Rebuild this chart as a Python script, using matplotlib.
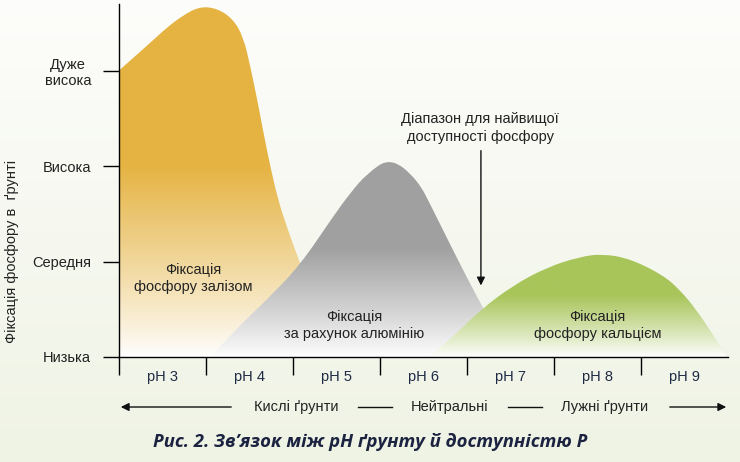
import matplotlib
matplotlib.use("Agg")
import matplotlib.pyplot as plt
import numpy as np
from matplotlib.patches import PathPatch
from matplotlib.path import Path
from matplotlib.colors import to_rgb

plt.rcParams['font.family'] = ['Liberation Sans', 'DejaVu Sans']

# рівні фіксації фосфору
levels = [0, 1, 2, 3]
level_labels = ['Низька', 'Середня', 'Висока', 'Дуже\nвисока']

# шкала pH
ph_values = [3, 4, 5, 6, 7, 8, 9]
ph_labels = ['pH 3', 'pH 4', 'pH 5', 'pH 6', 'pH 7', 'pH 8', 'pH 9']

# контури (pH, рівень)
iron_x = [2.5, 2.86, 3.05, 3.24, 3.43, 3.63, 3.81, 3.93, 4.01, 4.09, 4.16, 4.24, 4.33, 4.43, 4.58, 4.75, 4.93, 5.10]
iron_y = [3.0, 3.29, 3.45, 3.58, 3.67, 3.65, 3.54, 3.35, 3.04, 2.69, 2.35, 1.99, 1.64, 1.36, 0.98, 0.60, 0.23, 0.0]

alum_x = [3.55, 3.81, 4.20, 4.58, 4.96, 5.16, 5.35, 5.62, 5.93, 6.11, 6.30, 6.50, 6.68, 6.86, 6.99]
alum_y = [0.0, 0.26, 0.60, 0.96, 1.47, 1.72, 1.92, 2.09, 1.86, 1.54, 1.19, 0.83, 0.52, 0.23, 0.0]

calc_x = [6.07, 6.36, 6.65, 7.03, 7.42, 7.80, 8.06, 8.37, 8.75, 8.95, 9.14, 9.33, 9.49]
calc_y = [0.0, 0.23, 0.49, 0.75, 0.94, 1.05, 1.08, 1.03, 0.86, 0.70, 0.49, 0.23, 0.0]


def smooth_path(xs, ys):
    # квадратичні криві Безьє через середини відрізків
    pts = list(zip(xs, ys))
    verts = [pts[0]]
    codes = [Path.MOVETO]
    for i in range(1, len(pts) - 1):
        mid = ((pts[i][0] + pts[i + 1][0]) / 2, (pts[i][1] + pts[i + 1][1]) / 2)
        verts += [pts[i], mid]
        codes += [Path.CURVE3, Path.CURVE3]
    verts += [pts[-1], (xs[-1], 0), (xs[0], 0), pts[0]]
    codes += [Path.LINETO, Path.LINETO, Path.LINETO, Path.CLOSEPOLY]
    return Path(verts, codes)


def gradient_fill(ax, xs, ys, color, solid_part):
    top = max(ys)
    patch = PathPatch(smooth_path(xs, ys), facecolor='none', edgecolor='none')
    ax.add_patch(patch)
    t = np.linspace(0, 1, 256)[:, None]          # 0 внизу, 1 вгорі
    w = np.clip(t / solid_part, 0, 1) ** 0.9
    c = np.array(to_rgb(color))
    white = np.array([1.0, 1.0, 1.0])
    img = w[..., None] * c + (1 - w[..., None]) * white
    img = np.repeat(img, 2, axis=1)
    im = ax.imshow(img, origin='lower', aspect='auto',
                   extent=[min(xs), max(xs), 0, top], zorder=2,
                   interpolation='bilinear')
    im.set_clip_path(patch)


fig = plt.figure(figsize=(7.4, 4.62), dpi=100)

# фон
bg = fig.add_axes([0, 0, 1, 1], zorder=-10)
g = np.linspace(0, 1, 256)[:, None]
top_c = np.array(to_rgb('#fdfdfb'))
bot_c = np.array(to_rgb('#eff3e4'))
bg.imshow((g[..., None] * top_c + (1 - g[..., None]) * bot_c).repeat(2, axis=1),
          origin='lower', aspect='auto', extent=[0, 1, 0, 1])
bg.set_axis_off()

ax = fig.add_axes([119 / 740, 105 / 462, 609 / 740, 353.35 / 462])
ax.patch.set_alpha(0)
ax.set_xlim(2.5, 9.5)
ax.set_ylim(0, 3.7)

gradient_fill(ax, iron_x, iron_y, '#e5b342', 0.55)
gradient_fill(ax, alum_x, alum_y, '#a0a0a0', 0.55)
gradient_fill(ax, calc_x, calc_y, '#a8c55a', 0.6)

for s in ['top', 'right']:
    ax.spines[s].set_visible(False)
ax.spines['left'].set_bounds(0, 3.7)
ax.spines['left'].set_linewidth(1.0)
ax.spines['bottom'].set_linewidth(1.0)

ax.set_yticks(levels)
ax.set_yticklabels(level_labels, multialignment='center', fontsize=10.5, color='#222222')
ax.tick_params(axis='y', length=11.5, width=1.0, pad=8.5)

ax.set_xticks(ph_values)
ax.set_xticklabels(ph_labels, fontsize=10.5, color='#1f2a44')
ax.tick_params(axis='x', which='major', length=0, pad=9)
ax.set_xticks(np.arange(2.5, 9.0, 1.0), minor=True)
ax.tick_params(axis='x', which='minor', length=13, width=1.0)

# підписи областей
ax.text(3.35, 0.82, 'Фіксація\nфосфору залізом', ha='center', va='center',
        fontsize=10.5, color='#222222', linespacing=1.3)
ax.text(5.2, 0.33, 'Фіксація\nза рахунок алюмінію', ha='center', va='center',
        fontsize=10.5, color='#222222', linespacing=1.3)
ax.text(8.0, 0.33, 'Фіксація\nфосфору кальцієм', ha='center', va='center',
        fontsize=10.5, color='#222222', linespacing=1.3)

ax.text(6.65, 2.4, 'Діапазон для найвищої\nдоступності фосфору', ha='center', va='center',
        fontsize=10.5, color='#222222', linespacing=1.35)
ax.annotate('', xy=(6.66, 0.72), xytext=(6.66, 2.19),
            arrowprops=dict(arrowstyle='-|>', color='#111111', lw=1.0,
                            mutation_scale=12))

fig.text(12 / 740, 1 - 251 / 462, 'Фіксація фосфору в  ґрунті', rotation=90,
         ha='center', va='center', fontsize=10.5, color='#222222')

# нижній ряд зі стрілками
yrow = 1 - 407 / 462
fig.text(296 / 740, yrow, 'Кислі ґрунти', ha='center', va='center', fontsize=10.5, color='#222222')
fig.text(450 / 740, yrow, 'Нейтральні', ha='center', va='center', fontsize=10.5, color='#222222')
fig.text(605 / 740, yrow, 'Лужні ґрунти', ha='center', va='center', fontsize=10.5, color='#222222')
arrow = dict(arrowstyle='-|>', color='#111111', lw=1.0, mutation_scale=12)
fig.add_artist(plt.Line2D([358 / 740, 392 / 740], [yrow, yrow], color='#111111', lw=1.0))
fig.add_artist(plt.Line2D([508 / 740, 542 / 740], [yrow, yrow], color='#111111', lw=1.0))
ax.annotate('', xy=(118 / 740, yrow), xytext=(234 / 740, yrow), xycoords='figure fraction',
            textcoords='figure fraction', arrowprops=arrow)
ax.annotate('', xy=(729 / 740, yrow), xytext=(667 / 740, yrow), xycoords='figure fraction',
            textcoords='figure fraction', arrowprops=arrow)

fig.text(370 / 740, 1 - 442 / 462, 'Рис. 2. Зв’язок між pH ґрунту й доступністю P',
         ha='center', va='center', fontsize=13.3, fontweight='bold', fontstyle='italic',
         family=['Open Sans', 'DejaVu Sans'], color='#1b2340')

fig.savefig('out.png', dpi=100, facecolor=fig.get_facecolor())
